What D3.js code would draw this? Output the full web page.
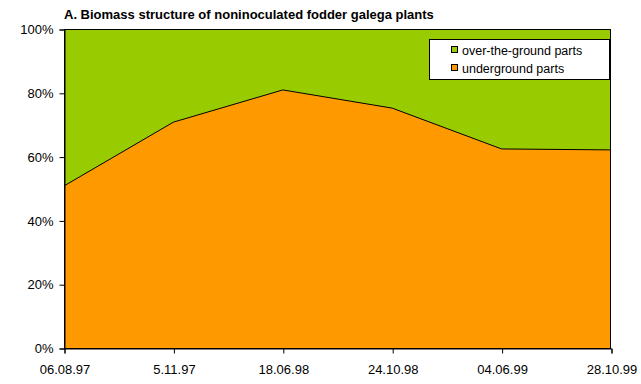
<!DOCTYPE html>
<html><head><meta charset="utf-8">
<script src="https://cdn.jsdelivr.net/npm/d3@7"></script>
<style>body{margin:0;background:#fff}svg{display:block;font-family:"Liberation Sans",Arial,sans-serif}</style>
</head><body>
<script>
const categories = ["06.08.97","5.11.97","18.06.98","24.10.98","04.06.99","28.10.99"];
const underground = [50.8, 70.8, 80.9, 75.2, 62.4, 62.1];
const overground = [49.2, 29.2, 19.1, 24.8, 37.6, 37.9];
const seriesNames = ["over-the-ground parts","underground parts"];
const colors = ["#99CC00","#FF9900"];
const yTicks = [0,20,40,60,80,100];

const W=641,H=384, L=64, R=611, T=29, B=348;
const svg=d3.select("body").append("svg").attr("width",W).attr("height",H);
const x=d3.scalePoint().domain(categories).range([L,R]);
const y=d3.scaleLinear().domain([0,100]).range([B,T]);
const data=categories.map((c,i)=>{const tot=underground[i]+overground[i];return {c,u:underground[i]/tot*100,o:overground[i]/tot*100};});

svg.append("rect").attr("x",L).attr("y",T).attr("width",R-L).attr("height",B-T).attr("fill",colors[0]);
svg.append("path").datum(data).attr("fill",colors[1])
  .attr("d",d3.area().x(d=>x(d.c)).y0(y(0)).y1(d=>y(d.u)));
svg.append("path").datum(data).attr("fill","none").attr("stroke","#000").attr("stroke-width",1)
  .attr("d",d3.line().x(d=>x(d.c)).y(d=>y(d.u)));
svg.append("rect").attr("x",L+0.5).attr("y",T+0.5).attr("width",R-L-1).attr("height",B-T).attr("fill","none").attr("stroke","#000");

const ya=svg.append("g").attr("transform",`translate(${L+0.5},0.5)`)
  .call(d3.axisLeft(y).tickValues(yTicks).tickSize(5).tickPadding(6).tickFormat(d=>d+"%"));
const xa=svg.append("g").attr("transform",`translate(0.5,${B+0.5})`)
  .call(d3.axisBottom(x).tickSize(5).tickPadding(11));
[ya,xa].forEach(a=>{a.select(".domain").attr("stroke","#000");a.selectAll("line").attr("stroke","#000");
  a.selectAll("text").attr("font-size",13).attr("fill","#000").attr("font-family","'Liberation Sans',Arial,sans-serif");});

svg.append("text").attr("x",64).attr("y",19).attr("font-size",13).attr("font-weight","bold").text("A. Biomass structure of noninoculated fodder galega plants");

const lg=svg.append("g");
lg.append("rect").attr("x",429.5).attr("y",39.5).attr("width",180).attr("height",40).attr("fill","#fff").attr("stroke","#000");
seriesNames.forEach((n,i)=>{
  const yy=50+i*18;
  lg.append("rect").attr("x",451.5).attr("y",yy-3.5).attr("width",6).attr("height",6).attr("fill",colors[i]).attr("stroke","#000");
  lg.append("text").attr("x",462).attr("y",yy+4.5).attr("font-size",12.5).text(n);
});
</script>
</body></html>
